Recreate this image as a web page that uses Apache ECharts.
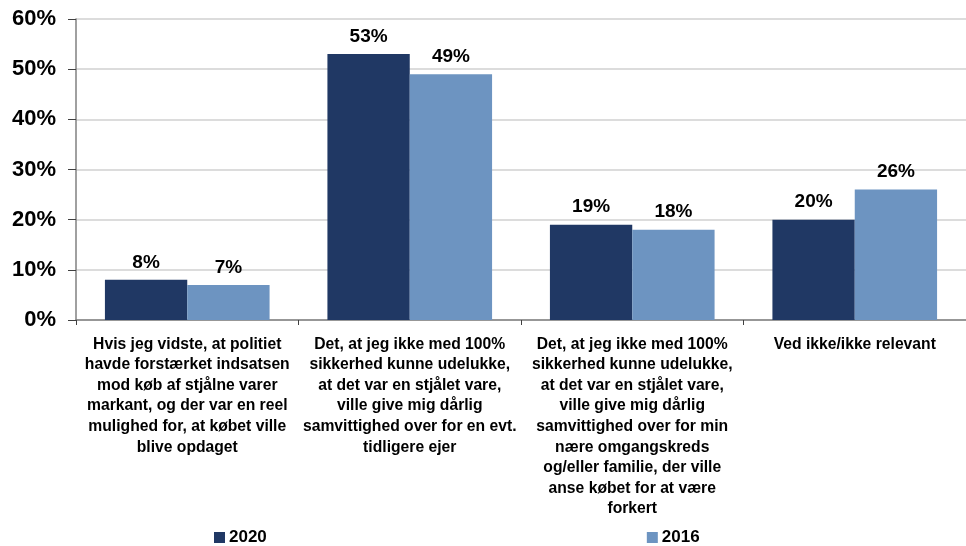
<!DOCTYPE html>
<html>
<head>
<meta charset="utf-8">
<script src="https://cdn.jsdelivr.net/npm/echarts@6/dist/echarts.min.js"></script>
<style>
  html, body { margin: 0; padding: 0; background: #fff; }
  #chart { width: 966px; height: 546px; }
</style>
</head>
<body>
<div id="chart"></div>
<script>
const categories = [
  'Hvis jeg vidste, at politiet\nhavde forstærket indsatsen\nmod køb af stjålne varer\nmarkant, og der var en reel\nmulighed for, at købet ville\nblive opdaget',
  'Det, at jeg ikke med 100%\nsikkerhed kunne udelukke,\nat det var en stjålet vare,\nville give mig dårlig\nsamvittighed over for en evt.\ntidligere ejer',
  'Det, at jeg ikke med 100%\nsikkerhed kunne udelukke,\nat det var en stjålet vare,\nville give mig dårlig\nsamvittighed over for min\nnære omgangskreds\nog/eller familie, der ville\nanse købet for at være\nforkert',
  'Ved ikke/ikke relevant'
]
const values2020 = [8, 53, 19, 20]
const values2016 = [7, 49, 18, 26]

const font = '"Liberation Sans", Arial, sans-serif'
const chart = echarts.init(document.getElementById('chart'))

const labelStyle = {
  show: true,
  position: 'top',
  distance: 8,
  formatter: '{c}%',
  color: '#000',
  fontFamily: font,
  fontWeight: 'bold',
  fontSize: 19
}

chart.setOption({
  animation: false,
  textStyle: { fontFamily: font },
  grid: { left: 76, top: 19, width: 896, height: 301 },
  legend: {
    left: 214,
    top: 529,
    padding: 0,
    itemGap: 380,
    itemWidth: 11,
    itemHeight: 11,
    icon: 'rect',
    textStyle: { color: '#000', fontWeight: 'bold', fontSize: 17, fontFamily: font, padding: [0, 0, 0, -1] },
    data: ['2020', '2016']
  },
  xAxis: {
    type: 'category',
    data: categories,
    axisLine: { lineStyle: { color: '#808080', width: 1.5 } },
    axisTick: { show: true, length: 5, lineStyle: { color: '#404040' } },
    axisLabel: {
      interval: 0,
      margin: 14,
      color: '#000',
      fontWeight: 'bold',
      fontSize: 15.7,
      lineHeight: 20.6,
      fontFamily: font,
      align: 'center'
    }
  },
  yAxis: {
    type: 'value',
    min: 0,
    max: 60,
    interval: 10,
    axisLine: { show: true, lineStyle: { color: '#808080', width: 1.5 } },
    axisTick: { show: true, length: 8, lineStyle: { color: '#404040' } },
    splitLine: { lineStyle: { color: '#d0d0d0', width: 1.5 } },
    axisLabel: {
      formatter: '{value}%',
      margin: 20,
      color: '#000',
      fontWeight: 'bold',
      fontSize: 22,
      fontFamily: font
    }
  },
  series: [
    {
      name: '2020',
      type: 'bar',
      data: values2020,
      barGap: '0%',
      barCategoryGap: '26%',
      itemStyle: { color: '#203864' },
      label: labelStyle
    },
    {
      name: '2016',
      type: 'bar',
      data: values2016,
      itemStyle: { color: '#6D94C1' },
      label: labelStyle
    }
  ]
})
</script>
</body>
</html>
